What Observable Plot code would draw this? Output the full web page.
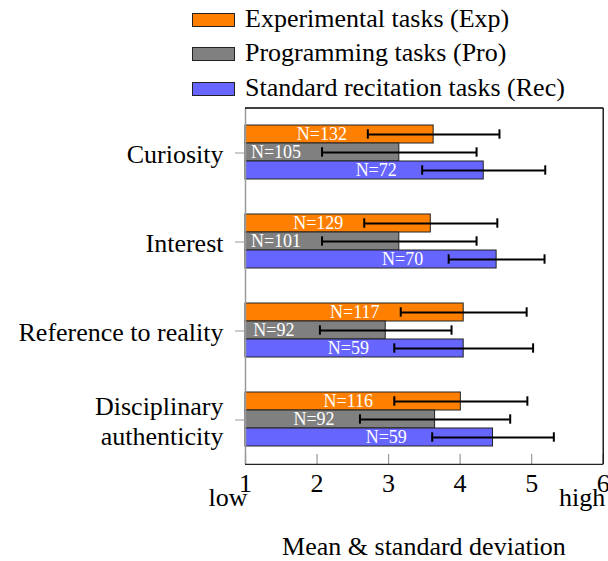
<!DOCTYPE html>
<html>
<head>
<meta charset="utf-8">
<script src="https://cdn.jsdelivr.net/npm/d3@7"></script>
<script src="https://cdn.jsdelivr.net/npm/@observablehq/plot@0.6"></script>
<style>
  body { margin: 0; background: white; font-family: 'Liberation Serif', 'Times New Roman', serif; }
  #wrap { position: relative; width: 608px; height: 561px; }
  #legend { position: relative; height: 100px; }
  .lg-box { position: absolute; left: 192px; width: 43px; height: 14px; box-sizing: border-box; border: 1px solid #222; }
  .lg-txt { position: absolute; left: 245px; font-size: 26px; line-height: 30px; white-space: nowrap; color: black; }
  #caption { position: absolute; left: 245px; width: 358px; top: 525px; height: 44px; line-height: 44px; text-align: center; font-size: 26px; white-space: nowrap; }
</style>
</head>
<body>
<div id="wrap">
  <div id="legend"></div>
  <div id="chart"></div>
  <div id="caption"></div>
</div>
<script>
// ---- data ----
const categories = ["Curiosity", "Interest", "Reference to reality", "Disciplinary\nauthenticity"];
const seriesKeys = ["Exp", "Pro", "Rec"];
const seriesNames = ["Experimental tasks (Exp)", "Programming tasks (Pro)", "Standard recitation tasks (Rec)"];
const seriesColors = ["#ff8000", "#808080", "#6666ff"];

const expMean = [3.63, 3.59, 4.05, 4.01];
const expSd   = [0.92, 0.93, 0.88, 0.93];
const expN    = [132, 129, 117, 116];

const proMean = [3.15, 3.15, 2.96, 3.65];
const proSd   = [1.08, 1.08, 0.92, 1.05];
const proN    = [105, 101, 92, 92];

const recMean = [4.33, 4.51, 4.05, 4.46];
const recSd   = [0.86, 0.67, 0.97, 0.85];
const recN    = [72, 70, 59, 59];

const xTicks = [1, 2, 3, 4, 5, 6];
const scaleEnds = [{v: 1, label: "low"}, {v: 6, label: "high"}];
const xTitle = "Mean & standard deviation";

// ---- table ----
const means = [expMean, proMean, recMean];
const sds = [expSd, proSd, recSd];
const ns = [expN, proN, recN];
const rows = categories.flatMap((c, i) => seriesKeys.map((k, j) => ({
  cat: c, key: k, mean: means[j][i], sd: sds[j][i], n: ns[j][i]
})));
const xMin = xTicks[0], xMax = xTicks[xTicks.length - 1];
const lastCat = categories[categories.length - 1];
const endRows = scaleEnds.map(d => ({...d, cat: lastCat}));

// ---- legend ----
const legend = document.getElementById("legend");
seriesNames.forEach((name, j) => {
  const cy = 19.5 + j * 34.5;
  const box = document.createElement("div");
  box.className = "lg-box";
  box.style.top = (cy - 7) + "px";
  box.style.background = seriesColors[j];
  legend.appendChild(box);
  const t = document.createElement("div");
  t.className = "lg-txt";
  t.style.top = (cy - 16) + "px";
  t.textContent = name;
  legend.appendChild(t);
});
document.getElementById("caption").textContent = xTitle;

// ---- plot ----
const plot = Plot.plot({
  width: 608,
  height: 425,
  marginTop: 8,
  marginBottom: 60.7,
  marginLeft: 245,
  marginRight: 5.3,
  style: {fontFamily: "'Liberation Serif', 'Times New Roman', serif", fontSize: "26px", background: "white", color: "black", overflow: "visible"},
  x: {domain: [xMin, xMax]},
  y: {domain: seriesKeys, paddingInner: 0, paddingOuter: 0.89, axis: null},
  fy: {domain: categories, padding: 0},
  color: {domain: seriesKeys, range: seriesColors},
  marks: [
    Plot.axisX({anchor: "bottom", ticks: xTicks, tickSize: 10, dy: -10, tickFormat: () => "", stroke: "#999", strokeWidth: 1.2, label: null}),
    Plot.barX(rows, {fy: "cat", y: "key", x1: () => xMin, x2: "mean", fill: "key", stroke: "#222", strokeWidth: 1}),
    Plot.ruleY(rows, {fy: "cat", y: "key", x1: d => d.mean - d.sd, x2: d => d.mean + d.sd, stroke: "black", strokeWidth: 2}),
    Plot.tickX(rows, {fy: "cat", y: "key", x: d => d.mean - d.sd, stroke: "black", strokeWidth: 2, insetTop: 4.3, insetBottom: 4.3}),
    Plot.tickX(rows, {fy: "cat", y: "key", x: d => d.mean + d.sd, stroke: "black", strokeWidth: 2, insetTop: 4.3, insetBottom: 4.3}),
    Plot.text(rows, {fy: "cat", y: "key", x: d => d.mean - d.sd, dx: -46, text: d => `N=${d.n}`, fill: "white", fontSize: 18, textAnchor: "middle"}),
    Plot.ruleX([xMin], {stroke: "#999", strokeWidth: 1.5}),
    Plot.ruleX([xMax], {stroke: "black", strokeWidth: 1.3}),
    Plot.axisFy({anchor: "left", label: null, tickSize: 10, tickPadding: 12, stroke: "#999", fill: "black", lineHeight: 1.15, fontSize: 26}),
    Plot.axisX({anchor: "bottom", ticks: xTicks, tickFormat: d => String(d), tickSize: 0, tickPadding: 9, fill: "black", label: null, fontSize: 26}),
    Plot.text(endRows, {x: "v", text: "label", fy: "cat", frameAnchor: "bottom", textAnchor: "end", dx: 2, dy: 41, fontSize: 26, fill: "black"})
  ]
});

// frame top & bottom borders from the library's scales
const xr = plot.scale("x").range;
const fyr = plot.scale("fy").range;
const svgNS = "http://www.w3.org/2000/svg";
[[fyr[0], "black"], [fyr[1], "#222"]].forEach(([yy, col]) => {
  const l = document.createElementNS(svgNS, "line");
  l.setAttribute("x1", Math.min(...xr));
  l.setAttribute("x2", Math.max(...xr) + 0.6);
  l.setAttribute("y1", yy);
  l.setAttribute("y2", yy);
  l.setAttribute("stroke", col);
  l.setAttribute("stroke-width", 1.3);
  plot.appendChild(l);
});
document.getElementById("chart").appendChild(plot);
</script>
</body>
</html>
